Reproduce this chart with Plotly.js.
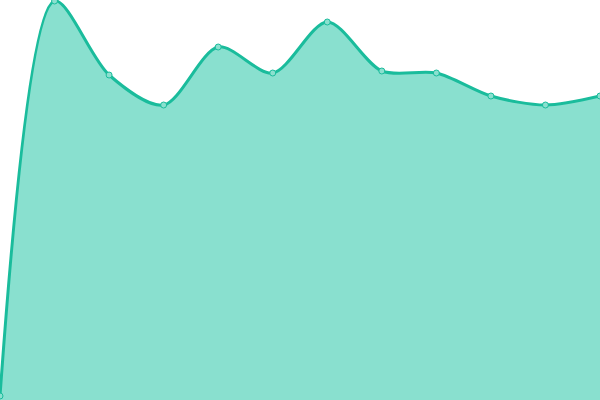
<!DOCTYPE html>
<html>
<head>
<meta charset="utf-8">
<script src="https://cdn.plot.ly/plotly-3.0.1.min.js"></script>
<style>html,body{margin:0;padding:0;background:#fff;}#chart{width:600px;height:400px;}</style>
</head>
<body>
<div id="chart"></div>
<script>
const xValues = [0, 1, 2, 3, 4, 5, 6, 7, 8, 9, 10, 11];
const seriesValues = [4, 399, 325, 295, 353, 327, 378, 329, 327, 304, 295, 304];

const trace = {
  x: xValues,
  y: seriesValues,
  type: 'scatter',
  mode: 'lines+markers',
  fill: 'tozeroy',
  fillcolor: '#89e0cf',
  line: {color: '#1abc9c', width: 3, shape: 'spline', smoothing: 0.85},
  marker: {size: 6, color: '#8be0cf', line: {color: '#1abc9c', width: 1}},
  hoverinfo: 'none',
  cliponaxis: false
};

const layout = {
  width: 600, height: 400,
  margin: {l: 0, r: 0, t: 0, b: 0, pad: 0},
  paper_bgcolor: '#ffffff',
  plot_bgcolor: '#ffffff',
  showlegend: false,
  xaxis: {range: [0, 11], visible: false, fixedrange: true},
  yaxis: {range: [0, 400], visible: false, fixedrange: true}
};

Plotly.newPlot('chart', [trace], layout, {displayModeBar: false, staticPlot: true});
</script>
</body>
</html>
